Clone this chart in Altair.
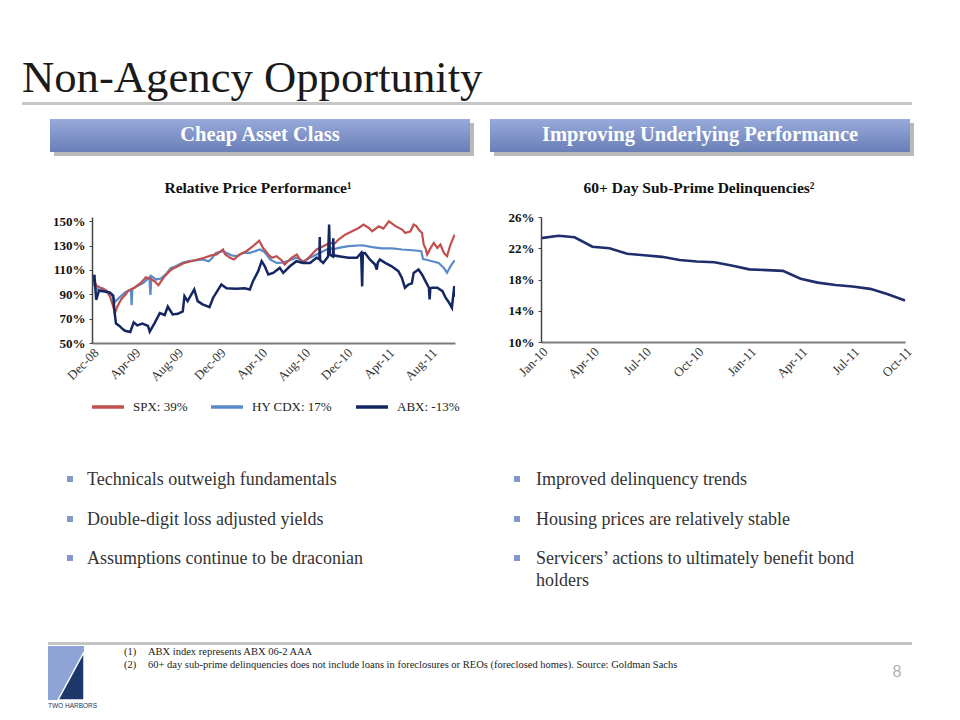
import altair as alt
import pandas as pd

# ---------------- data ----------------
spx = [("2008-12-31",100),("2009-01-06",101),("2009-01-13",97),("2009-01-27",95),("2009-02-10",93),
       ("2009-02-21",88),("2009-03-02",80),("2009-03-07",74.5),("2009-03-14",80),("2009-03-25",86),
       ("2009-04-07",90),("2009-04-13",92.6),("2009-05-02",95.4),("2009-05-21",99.5),("2009-06-04",104),
       ("2009-06-14",103),("2009-06-29",100.8),("2009-07-10",97.5),("2009-07-28",104.9),("2009-08-16",110.4),
       ("2009-09-04",113),("2009-09-23",115.8),("2009-10-12",117.2),("2009-10-31",118.6),("2009-11-19",120),
       ("2009-12-09",122),("2009-12-24",122.7),("2010-01-12",126.8),("2010-01-17",123),("2010-02-01",120),
       ("2010-02-12",118.6),("2010-03-01",122.7),("2010-03-20",125.4),("2010-04-08",129.5),("2010-04-26",134),
       ("2010-05-07",128),("2010-05-22",122.7),("2010-06-01",120),("2010-06-15",121.3),("2010-06-29",118),
       ("2010-07-08",114.5),("2010-07-28",120),("2010-08-12",122.7),("2010-08-26",116.5),("2010-09-04",117),
       ("2010-09-19",121.3),("2010-10-08",126.8),("2010-10-27",129.5),("2010-11-15",132.2),("2010-11-30",132),
       ("2010-12-10",135),("2010-12-29",139),("2011-01-18",141.8),("2011-02-06",144.5),("2011-02-20",147.3),
       ("2011-03-07",144.5),("2011-03-17",141.8),("2011-04-05",145.9),("2011-04-18",144),("2011-05-04",150),
       ("2011-05-23",146),("2011-06-11",143.2),("2011-06-20",140.4),("2011-07-05",141.8),("2011-07-14",147.3),
       ("2011-07-22",146),("2011-07-29",143),("2011-08-07",140.4),("2011-08-12",131),("2011-08-17",128),
       ("2011-08-22",122.7),("2011-09-01",128.1),("2011-09-10",132.2),("2011-09-20",128.1),("2011-09-29",130.9),
       ("2011-10-09",124),("2011-10-18",121.3),("2011-10-28",130.9),("2011-11-07",137.7),("2011-11-10",139)]

hy_cdx = [("2008-12-31",100),("2009-01-08",97),("2009-01-20",93),("2009-01-31",95),("2009-02-15",92),
          ("2009-02-28",88.5),("2009-03-08",84),("2009-03-18",87),("2009-04-05",91.5),("2009-04-22",94),
          ("2009-04-24",81),("2009-04-26",94.5),("2009-05-10",96.7),("2009-05-28",99.5),("2009-06-14",104),
          ("2009-06-17",89.4),("2009-06-20",104.9),("2009-07-03",102.2),("2009-07-17",103),("2009-07-31",106.3),
          ("2009-08-15",111.7),("2009-08-29",113),("2009-09-17",115.8),("2009-10-06",117.2),("2009-10-25",117.8),
          ("2009-11-13",118.6),("2009-12-02",117.2),("2009-12-12",120),("2009-12-22",124),("2010-01-12",125.4),
          ("2010-02-05",122),("2010-02-20",121.3),("2010-03-10",124),("2010-03-30",124),("2010-04-28",126.8),
          ("2010-05-10",125),("2010-05-17",122.7),("2010-05-27",118.6),("2010-06-15",115.8),("2010-07-01",116),
          ("2010-07-14",117.2),("2010-08-12",120),("2010-08-31",117.2),("2010-09-19",120),("2010-10-08",122.7),
          ("2010-10-27",125.4),("2010-11-15",128.1),("2010-11-25",127),("2010-12-10",128.1),("2011-01-08",129.5),
          ("2011-02-16",130.3),("2011-03-17",128.7),("2011-04-14",127.8),("2011-05-13",127.8),("2011-06-11",126.8),
          ("2011-07-19",126),("2011-08-05",125.4),("2011-08-10",119),("2011-08-17",118.6),("2011-09-05",117.2),
          ("2011-09-24",115.8),("2011-10-09",111.7),("2011-10-18",107.6),("2011-10-28",113),("2011-11-07",117.2),
          ("2011-11-10",117)]

abx = [("2008-12-31",100),("2009-01-04",103),("2009-01-07",106),("2009-01-12",85.5),("2009-01-20",93),
       ("2009-02-01",92.5),("2009-02-20",91.5),("2009-03-02",89),("2009-03-06",75),("2009-03-10",66),
       ("2009-03-20",64),("2009-03-27",62),("2009-04-05",60),("2009-04-20",59),("2009-04-30",67),
       ("2009-05-10",64.5),("2009-05-25",66),("2009-06-10",64),("2009-06-15",59.3),("2009-06-29",66.4),
       ("2009-07-14",74.6),("2009-07-28",73),("2009-08-06",80),("2009-08-20",73.5),("2009-09-04",74),
       ("2009-09-18",76),("2009-09-23",88.5),("2009-10-02",84.4),("2009-10-21",94),("2009-10-31",84.4),
       ("2009-11-14",81.7),("2009-12-04",79.5),("2009-12-14",87),("2010-01-07",98),("2010-01-22",95),
       ("2010-02-20",94.5),("2010-03-15",95),("2010-03-30",94),("2010-04-08",100.8),("2010-04-23",109),
       ("2010-05-03",117.2),("2010-05-12",113),("2010-05-22",106.3),("2010-06-05",107.6),("2010-06-24",111.7),
       ("2010-07-04",107.6),("2010-07-23",113),("2010-08-11",117.2),("2010-08-30",115.8),("2010-09-19",115.8),
       ("2010-10-08",120),("2010-10-16",119),("2010-10-17",137),("2010-10-18",118),("2010-10-27",115.8),
       ("2010-11-10",121),("2010-11-13",147.3),("2010-11-15",122.7),("2010-11-24",121),("2010-11-25",136),
       ("2010-11-26",122),("2010-12-10",121.3),("2011-01-08",120),("2011-02-01",120),("2011-02-13",124),
       ("2011-02-16",96.5),("2011-02-18",124),("2011-02-24",124),("2011-03-10",118.6),("2011-03-25",114.5),
       ("2011-03-30",110.4),("2011-04-02",116),("2011-04-08",118.6),("2011-04-23",115.8),("2011-05-12",113),
       ("2011-05-31",109),("2011-06-10",103.6),("2011-06-19",95.4),("2011-06-29",98),("2011-07-09",99),
       ("2011-07-14",107.6),("2011-07-28",110.4),("2011-08-07",106.3),("2011-08-17",100.8),("2011-08-27",95.4),
       ("2011-08-29",85.8),("2011-08-31",95),("2011-09-05",95.4),("2011-09-20",95.4),("2011-10-05",92.6),
       ("2011-10-14",87.2),("2011-10-24",83.1),("2011-11-01",79),("2011-11-08",96.7),("2011-11-10",88)]

series_names = ["SPX: 39%", "HY CDX: 17%", "ABX: -13%"]
series_colors = ["#c0504d", "#5b8ac8", "#152762"]

delinq_months = ["2010-01-01","2010-02-01","2010-03-01","2010-04-01","2010-05-01","2010-06-01",
                 "2010-07-01","2010-08-01","2010-09-01","2010-10-01","2010-11-01","2010-12-01",
                 "2011-01-01","2011-02-01","2011-03-01","2011-04-01","2011-05-01","2011-06-01",
                 "2011-07-01","2011-08-01","2011-09-01","2011-10-01"]
delinq_rate = [23.3,23.6,23.4,22.2,22.0,21.3,21.1,20.9,20.5,20.3,20.2,19.8,
               19.3,19.2,19.1,18.1,17.6,17.3,17.1,16.8,16.1,15.3]

left_ticks = [50, 70, 90, 110, 130, 150]
right_ticks = [10, 14, 18, 22, 26]
left_xticks = [(2008,12,31),(2009,4,30),(2009,8,31),(2009,12,31),(2010,4,30),
               (2010,8,31),(2010,12,31),(2011,4,30),(2011,8,31)]
right_xticks = [(2010,1,1),(2010,4,1),(2010,7,1),(2010,10,1),(2011,1,1),
                (2011,4,1),(2011,7,1),(2011,10,1)]

left_bullets = ["Technicals outweigh fundamentals", "Double-digit loss adjusted yields",
                "Assumptions continue to be draconian"]
right_bullets = ["Improved delinquency trends", "Housing prices are relatively stable",
                 "Servicers\u2019 actions to ultimately benefit bond"]
footnotes = ["ABX index represents ABX 06-2 AAA",
             "60+ day sub-prime delinquencies does not include loans in foreclosures or REOs (foreclosed homes).  Source:  Goldman Sachs"]

# ---------------- helpers ----------------
SERIF = "Liberation Serif"
one = pd.DataFrame({"k": [0]})


def dt(t):
    return alt.DateTime(year=t[0], month=t[1], date=t[2], utc=True)


def txt(s, x, y, size, color="#333333", weight="normal", align="left",
        baseline="middle", font=SERIF):
    return alt.Chart(one).mark_text(
        text=s, fontSize=size, font=font, color=color, fontWeight=weight,
        align=align, baseline=baseline
    ).encode(x=alt.value(x), y=alt.value(y))


def box(x, y, x2, y2, fill, **kw):
    return alt.Chart(one).mark_rect(fill=fill, **kw).encode(
        x=alt.value(x), y=alt.value(y), x2=alt.value(x2), y2=alt.value(y2))


grad = {"gradient": "linear", "x1": 0, "y1": 0, "x2": 0, "y2": 1,
        "stops": [{"offset": 0, "color": "#97aadb"},
                  {"offset": 1, "color": "#6a7fb7"}]}

# Slide decorations, positioned relative to the left plot's top-left corner
deco = [
    box(-84, -209, 860, 495, "white"),
    txt("Non-Agency Opportunity", -70, -125, 44.7, color="#1a1a1a", baseline="alphabetic"),
    box(-70, -115, 820, -112, "#c6c6c6"),
    box(-38, -94, 382, -61, "#b9b9b9"),
    box(-42, -98, 378, -65, grad),
    box(402, -94, 822, -61, "#b9b9b9"),
    box(398, -98, 818, -65, grad),
    txt("Cheap Asset Class", 168, -82.5, 20.5, color="white", weight="bold", align="center"),
    txt("Improving Underlying Performance", 608, -82.5, 20.5, color="white", weight="bold", align="center"),
    txt("Relative Price Performance\u00b9", 166, -29, 15.5, color="#111111", weight="bold", align="center"),
    txt("60+ Day Sub-Prime Delinquencies\u00b2", 607, -29, 15.5, color="#111111", weight="bold", align="center"),
]
bullet_y = [263, 303, 342]
for i, s in enumerate(left_bullets):
    deco.append(box(-25, bullet_y[i] - 4, -19, bullet_y[i] + 2, "#8398ca"))
    deco.append(txt(s, -5, bullet_y[i], 18, color="#333333"))
for i, s in enumerate(right_bullets):
    deco.append(box(422, bullet_y[i] - 4, 428, bullet_y[i] + 2, "#8398ca"))
    deco.append(txt(s, 444, bullet_y[i], 18, color="#333333"))
deco.append(txt("holders", 444, 364, 18, color="#333333"))
deco += [
    box(-44, 425, 820, 428, "#c4c4c4"),
    txt("(1)", 32, 435, 10.5, color="#222222"),
    txt(footnotes[0], 56, 435, 10.5, color="#222222"),
    txt("(2)", 32, 448, 10.5, color="#222222"),
    txt(footnotes[1], 56, 448, 10.5, color="#222222"),
    txt("8", 805, 455, 16, color="#b0b0b0", align="center", font="Liberation Sans"),
    box(-44, 429, -8, 483, "#8fa4d6"),
    alt.Chart(one).mark_point(shape="M0.5,-0.923L0.5,0.923L-0.5,0.923Z", filled=True,
                              fill="#1c3768", stroke="white", strokeWidth=1.5, opacity=1,
                              size=2704).encode(x=alt.value(-21), y=alt.value(459)),
    txt("TWO HARBORS", -44, 489, 6.5, color="#1c3768", font="Liberation Sans"),
]

# ---------------- left chart ----------------
rows = []
for name, data in zip(series_names, [spx, hy_cdx, abx]):
    for d, v in data:
        rows.append({"series": name, "date": d, "value": v})
perf = pd.DataFrame(rows)

color = alt.Color(
    "series:N",
    scale=alt.Scale(domain=series_names, range=series_colors),
    legend=alt.Legend(orient="none", legendX=-2, legendY=172, direction="horizontal",
                      title=None, symbolType="stroke", symbolSize=1024,
                      symbolStrokeWidth=3.5, labelFont=SERIF, labelFontSize=13,
                      labelColor="#222222", columnPadding=16, labelOffset=7, padding=0),
)

xlab = "utcFormat(datum.value, '%b-%y')"


def xaxis(vals):
    return alt.Axis(values=[dt(t) for t in vals], labelExpr=xlab, zindex=2,
                    labelAngle=-45, labelFont=SERIF, labelFontSize=13, labelColor="#333333",
                    ticks=False, domainColor="#7a7a7a", domainWidth=2, grid=False,
                    title=None, labelPadding=3)


def yaxis(vals):
    return alt.Axis(values=vals, labelExpr="datum.value + '%'", labelFont=SERIF, zindex=2,
                    labelFontSize=13, labelFontWeight="bold", labelColor="#111111",
                    tickSize=3, domainColor="#444444", domainWidth=1.5, tickColor="#444444",
                    grid=False, title=None, labelPadding=4)


base = alt.Chart(perf).encode(
    x=alt.X("date:T", scale=alt.Scale(domain=[dt((2008,12,31)), dt((2011,11,10))]),
            axis=xaxis(left_xticks)),
    y=alt.Y("value:Q", scale=alt.Scale(domain=[50, 153.5], nice=False, zero=False),
            axis=yaxis(left_ticks)),
    color=color,
)

left = alt.layer(
    *deco,
    base.transform_filter(alt.datum.series == series_names[1]).mark_line(strokeWidth=2.2, clip=True),
    base.transform_filter(alt.datum.series == series_names[0]).mark_line(strokeWidth=2.2, clip=True),
    base.transform_filter(alt.datum.series == series_names[2]).mark_line(strokeWidth=2.5, clip=True),
).properties(width=363, height=126)

# ---------------- right chart ----------------
delinq = pd.DataFrame({"month": delinq_months, "rate": delinq_rate})
right = alt.Chart(delinq).mark_line(color="#1f2d6b", strokeWidth=2.6).encode(
    x=alt.X("month:T", scale=alt.Scale(domain=[dt((2010,1,1)), dt((2011,10,1))]),
            axis=xaxis(right_xticks)),
    y=alt.Y("rate:Q", scale=alt.Scale(domain=[10, 26], nice=False, zero=False),
            axis=yaxis(right_ticks)),
).properties(width=364, height=125)

chart = alt.hconcat(left, right, spacing=86, bounds="flush").configure_view(
    strokeWidth=0).properties(padding=0)

chart.save("out.html", embed_options={"renderer": "svg", "actions": False})
